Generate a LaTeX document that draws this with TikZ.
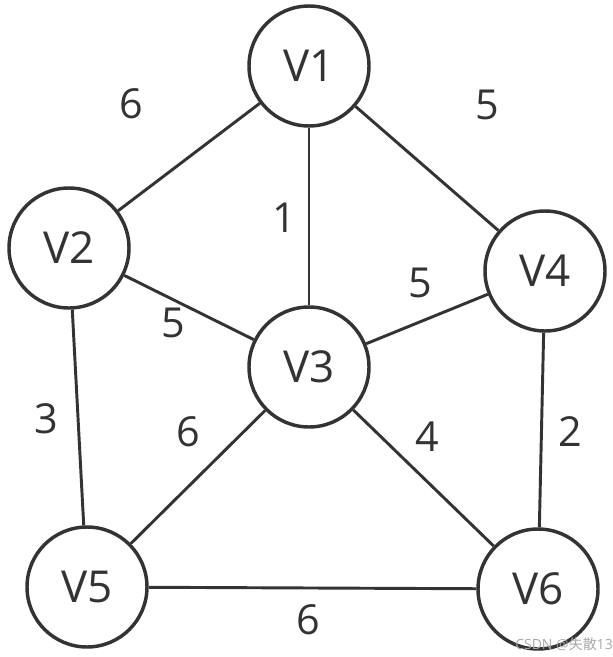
\documentclass[tikz,border=0pt]{standalone}
\usepackage{fontspec}
\setmainfont{Open Sans}
\newfontfamily\cjk{Noto Sans CJK SC}
\usepackage{tikz}
\usepackage{xcolor}
\definecolor{ink}{HTML}{333333}
\definecolor{mark}{HTML}{A8A8A8}
\tikzset{
  vertex/.style={draw=ink, line width=2.6pt, circle, minimum size=90pt, inner sep=0pt, text=ink, font=\fontsize{33}{40}\selectfont},
  link/.style={draw=ink, line width=2.2pt},
  weight/.style={inner sep=0pt, text=ink, font=\fontsize{31}{38}\selectfont}
}

\begin{document}
\begin{tikzpicture}[x=0.75pt,y=0.75pt,yscale=-1,xscale=1]
\useasboundingbox (0,0) rectangle (612,657);

% Vertices
\node [vertex] (v1) at (309,66) {V1};
\node [vertex] (v2) at (69,248) {V2};
\node [vertex] (v3) at (309,367) {V3};
\node [vertex] (v4) at (545,271) {V4};
\node [vertex] (v5) at (87,587) {V5};
\node [vertex] (v6) at (538,589) {V6};

% Edges
\draw [link] (v1) -- (v2);
\draw [link] (v1) -- (v4);
\draw [link] (v1) -- (v3);
\draw [link] (v2) -- (v3);
\draw [link] (v2) -- (v5);
\draw [link] (v3) -- (v4);
\draw [link] (v3) -- (v5);
\draw [link] (v3) -- (v6);
\draw [link] (v4) -- (v6);
\draw [link] (v5) -- (v6);

% Weights
\node [weight] (w12) at (131,104) {6};
\node [weight] (w14) at (487,105) {5};
\node [weight] (w13) at (284,218) {1};
\node [weight] (w34) at (420,283) {5};
\node [weight] (w23) at (173,323) {5};
\node [weight] (w25) at (46,419) {3};
\node [weight] (w35) at (188,432) {6};
\node [weight] (w36) at (427,437) {4};
\node [weight] (w46) at (570,432) {2};
\node [weight] (w56) at (308,620) {6};

% Watermark
\node [inner sep=0pt, text=mark, font=\fontsize{10.5}{12}\selectfont] (wm) at (564,644) {CSDN @{\cjk 失散}13};

\end{tikzpicture}
\end{document}
